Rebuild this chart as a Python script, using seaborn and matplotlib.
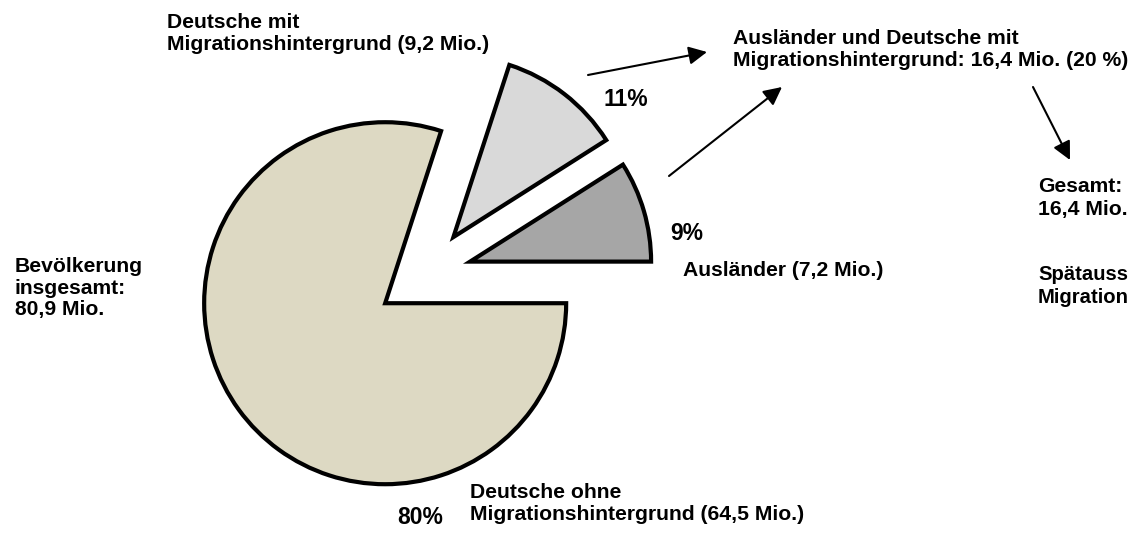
import matplotlib
matplotlib.use("Agg")
import matplotlib.pyplot as plt
import seaborn as sns

# Data (drawn counter-clockwise starting at 3 o'clock)
groups = ["Ausländer", "Deutsche mit Migrationshintergrund", "Deutsche ohne Migrationshintergrund"]
shares = [9, 11, 80]
colors = ["#A6A6A6", "#D9D9D9", "#DDD9C3"]

group_labels = [
    "Ausländer (7,2 Mio.)",
    "Deutsche mit\nMigrationshintergrund (9,2 Mio.)",
    "Deutsche ohne\nMigrationshintergrund (64,5 Mio.)",
]
total_label = "Bevölkerung\ninsgesamt:\n80,9 Mio."
migration_label = "Ausländer und Deutsche mit\nMigrationshintergrund: 16,4 Mio. (20 %)"
side_labels = ["Gesamt:\n16,4 Mio.", "Spätauss\nMigration"]

sns.set_theme(style="white")
plt.rcParams['font.family'] = ['Liberation Sans', 'DejaVu Sans']

fig = plt.figure(figsize=(11.32, 5.34), dpi=100)
ax = fig.add_axes([0, 0, 1, 1])

# pie in pixel-like coordinates (y axis points down)
center = (424, 275)
radius = 181
ax.pie(shares, colors=colors, startangle=0, counterclock=False,
       center=center, radius=radius, explode=[48, 48, 48],
       wedgeprops=dict(edgecolor="black", linewidth=3.0, joinstyle="miter"))
ax.set_xlim(0, 1132)
ax.set_ylim(534, 0)
ax.set_aspect("equal")
ax.axis("off")

txt = dict(fontsize=15.2, fontweight="bold", color="black", linespacing=1.2)

# percentages
pct_pos = [(687, 233), (626, 100), (420, 517)]
for s, (x, y) in zip(shares, pct_pos):
    ax.text(x, y, f"{s}%", ha="center", va="center", fontsize=16.5,
            fontweight="bold", color="black")

# group labels
ax.text(683, 271, group_labels[0], ha="left", va="center", **txt)
ax.text(167, 33, group_labels[1], ha="left", va="center", **txt)
ax.text(470, 504, group_labels[2], ha="left", va="center", **txt)
ax.text(15, 288, total_label, ha="left", va="center", **txt)
ax.text(733, 50, migration_label, ha="left", va="center", **txt)
ax.text(1038, 198, side_labels[0], ha="left", va="center", **txt)
ax.text(1038, 286, side_labels[1], ha="left", va="center", fontsize=14.6,
        fontweight="bold", color="black", linespacing=1.25)

# arrows
arrows = [((588, 75), (707, 52)), ((669, 176), (782, 87)), ((1033, 87), (1070, 160))]
for start, tip in arrows:
    ax.annotate("", xy=tip, xytext=start,
                arrowprops=dict(arrowstyle="-|>,head_length=0.5,head_width=0.25",
                                color="black", lw=1.5, mutation_scale=22,
                                shrinkA=0, shrinkB=0))

fig.savefig("out.png", dpi=100)
